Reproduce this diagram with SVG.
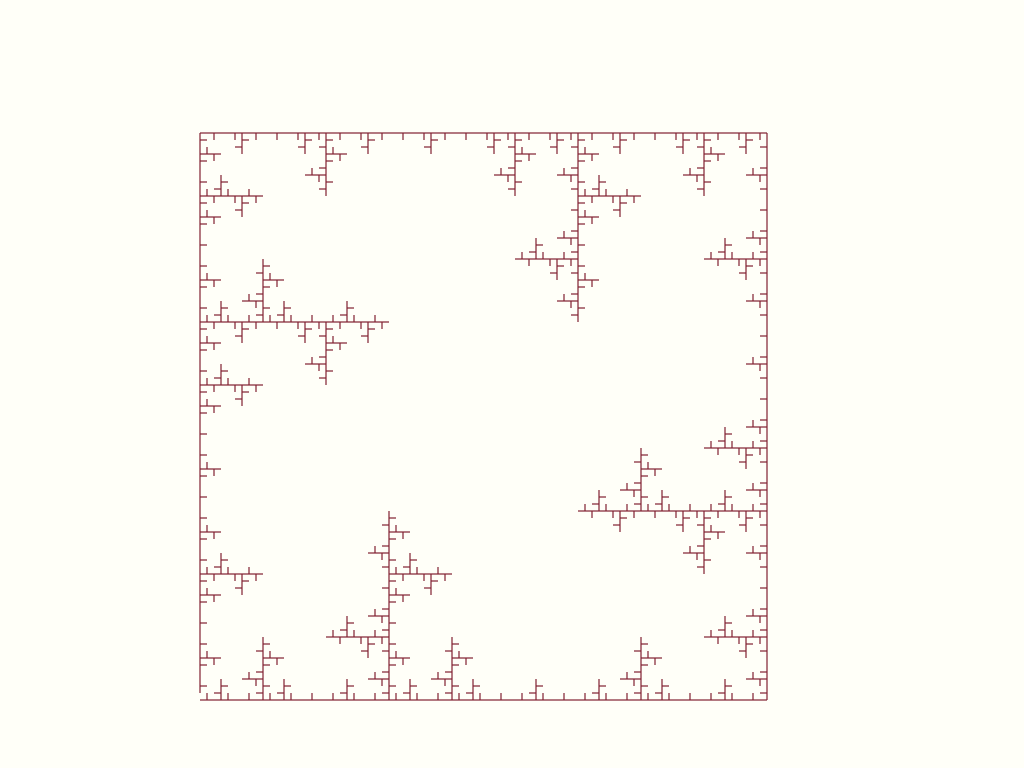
<svg xmlns="http://www.w3.org/2000/svg" xmlns:xlink="http://www.w3.org/1999/xlink" width="1024" height="768" viewBox="0 0 1024 768">
<style>
.s{fill:none;stroke:#802030;stroke-width:2;stroke-opacity:.6;stroke-linecap:butt}
</style>
<defs>
<path id="L0" class="s" d="M0 0H7"/>
<g id="L1"><use href="#L0"/><use href="#L0" transform="translate(7,0) rotate(-90)"/><use href="#L0" transform="translate(7,0)"/><use href="#L0" transform="translate(14,0) rotate(90)"/><use href="#L0" transform="translate(14,0)"/></g>
<g id="L2"><use href="#L1"/><use href="#L1" transform="translate(21,0) rotate(-90)"/><use href="#L1" transform="translate(21,0)"/><use href="#L1" transform="translate(42,0) rotate(90)"/><use href="#L1" transform="translate(42,0)"/></g>
<g id="L3"><use href="#L2"/><use href="#L2" transform="translate(63,0) rotate(-90)"/><use href="#L2" transform="translate(63,0)"/><use href="#L2" transform="translate(126,0) rotate(90)"/><use href="#L2" transform="translate(126,0)"/></g>
<g id="I1"><use href="#L0"/><use href="#L0" transform="translate(7,0)"/><use href="#L0" transform="translate(14,0) rotate(90)"/><use href="#L0" transform="translate(14,0)"/></g>
<g id="I2"><use href="#I1"/><use href="#I1" transform="translate(21,0)"/><use href="#L1" transform="translate(42,0) rotate(90)"/><use href="#I1" transform="translate(42,0)"/></g>
<g id="I3"><use href="#I2"/><use href="#I2" transform="translate(63,0)"/><use href="#L2" transform="translate(126,0) rotate(90)"/><use href="#I2" transform="translate(126,0)"/></g>
<g id="I4"><use href="#I3"/><use href="#I3" transform="translate(189,0)"/><use href="#L3" transform="translate(378,0) rotate(90)"/><use href="#I3" transform="translate(378,0)"/></g>
<g id="J1"><use href="#L0" transform="translate(7,0)"/><use href="#L0" transform="translate(14,0) rotate(90)"/><use href="#L0" transform="translate(14,0)"/></g>
<g id="J2"><use href="#J1"/><use href="#I1" transform="translate(21,0)"/><use href="#L1" transform="translate(42,0) rotate(90)"/><use href="#I1" transform="translate(42,0)"/></g>
<g id="J3"><use href="#J2"/><use href="#I2" transform="translate(63,0)"/><use href="#L2" transform="translate(126,0) rotate(90)"/><use href="#I2" transform="translate(126,0)"/></g>
<g id="J4"><use href="#J3"/><use href="#I3" transform="translate(189,0)"/><use href="#L3" transform="translate(378,0) rotate(90)"/><use href="#I3" transform="translate(378,0)"/></g>
</defs>
<rect width="1024" height="768" fill="#fffff8"/>
<g id="fractal">
<use id="side-top" href="#I4" transform="translate(200,133)"/>
<use id="side-right" href="#I4" transform="translate(767,133) rotate(90)"/>
<use id="side-bottom" href="#I4" transform="translate(767,700) rotate(180)"/>
<use id="side-left" href="#J4" transform="translate(200,700) rotate(270)"/>
</g>
</svg>
